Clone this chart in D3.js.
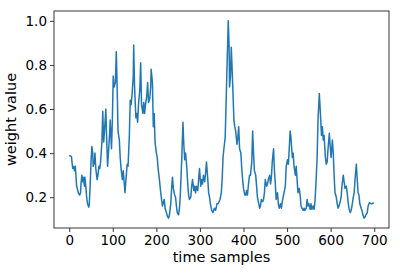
<!DOCTYPE html>
<html>
<meta charset="utf-8">
<script src="https://cdn.jsdelivr.net/npm/d3@7"></script>
<title>weight value</title>
<style>
body { margin: 0; background: #fff; }
text { font-family: "DejaVu Sans", sans-serif; fill: #000; }
</style>
<body>
<script type="text/javascript">

// time sample index and weight value
var samples = [
    0, 5, 8, 10, 12, 14, 17, 21, 24, 26, 27, 29, 31, 33, 35, 36, 38, 40, 42, 45,
    46, 48, 50, 52, 54, 55, 58, 59, 61, 64, 66, 68, 70, 72, 75, 77, 79, 81, 84, 86,
    88, 90, 93, 94, 97, 99, 101, 103, 106, 108, 110, 112, 115, 117, 119, 122, 124, 128, 131, 133,
    135, 138, 140, 142, 144, 147, 148, 150, 153, 155, 157, 159, 162, 164, 166, 169, 171, 173, 175, 178,
    180, 182, 185, 187, 188, 191, 193, 195, 197, 200, 202, 204, 207, 210, 212, 214, 218, 220, 223, 226,
    228, 230, 233, 235, 237, 239, 242, 244, 246, 248, 251, 253, 255, 258, 261, 263, 265, 267, 270, 272,
    274, 276, 279, 281, 283, 286, 288, 290, 292, 295, 297, 299, 302, 304, 306, 308, 311, 313, 315, 317,
    320, 322, 324, 327, 330, 333, 336, 339, 342, 346, 349, 351, 353, 355, 358, 361, 365, 367, 368, 370,
    372, 375, 378, 380, 382, 385, 387, 389, 391, 394, 396, 398, 400, 403, 405, 407, 409, 412, 414, 416,
    419, 421, 423, 425, 428, 430, 432, 434, 437, 439, 441, 444, 446, 448, 450, 453, 455, 457, 460, 462,
    464, 466, 469, 471, 473, 475, 478, 480, 482, 485, 487, 489, 491, 494, 496, 498, 501, 503, 505, 507,
    509, 512, 514, 516, 519, 521, 523, 525, 528, 530, 532, 534, 537, 539, 541, 544, 546, 548, 550, 553,
    555, 557, 560, 562, 564, 566, 569, 571, 574, 576, 579, 581, 583, 585, 588, 590, 592, 594, 597, 599,
    601, 604, 606, 608, 610, 613, 615, 617, 619, 622, 624, 626, 629, 631, 633, 636, 638, 640, 642, 645,
    647, 649, 652, 654, 656, 659, 661, 663, 665, 667, 670, 672, 674, 677, 679, 681, 684, 686, 689, 694,
    699
];
var weights = [
    0.389, 0.385, 0.33, 0.34, 0.32, 0.34, 0.25, 0.22, 0.21, 0.22, 0.26, 0.30, 0.27, 0.29, 0.25, 0.29, 0.25, 0.20, 0.17, 0.155,
    0.17, 0.25, 0.36, 0.43, 0.40, 0.34, 0.36, 0.40, 0.33, 0.28, 0.30, 0.34, 0.33, 0.36, 0.45, 0.59, 0.45, 0.50, 0.60, 0.46,
    0.34, 0.40, 0.50, 0.55, 0.42, 0.55, 0.75, 0.70, 0.72, 0.86, 0.70, 0.50, 0.46, 0.38, 0.33, 0.28, 0.32, 0.22, 0.30, 0.35,
    0.34, 0.48, 0.64, 0.62, 0.66, 0.75, 0.89, 0.70, 0.56, 0.58, 0.54, 0.62, 0.69, 0.81, 0.62, 0.58, 0.63, 0.58, 0.62, 0.66,
    0.72, 0.63, 0.65, 0.70, 0.78, 0.72, 0.52, 0.58, 0.45, 0.40, 0.38, 0.33, 0.28, 0.22, 0.19, 0.16, 0.19, 0.15, 0.13, 0.11,
    0.105, 0.12, 0.17, 0.24, 0.29, 0.24, 0.21, 0.20, 0.16, 0.13, 0.12, 0.15, 0.21, 0.36, 0.54, 0.44, 0.37, 0.40, 0.33, 0.26,
    0.21, 0.19, 0.20, 0.25, 0.28, 0.23, 0.25, 0.22, 0.25, 0.23, 0.28, 0.33, 0.25, 0.28, 0.26, 0.30, 0.27, 0.31, 0.36, 0.31,
    0.22, 0.20, 0.17, 0.14, 0.13, 0.15, 0.14, 0.17, 0.17, 0.19, 0.22, 0.28, 0.38, 0.42, 0.47, 0.70, 1.0, 0.88, 0.70, 0.75,
    0.88, 0.72, 0.55, 0.52, 0.50, 0.44, 0.47, 0.52, 0.42, 0.40, 0.33, 0.28, 0.24, 0.21, 0.21, 0.23, 0.21, 0.27, 0.30, 0.30,
    0.36, 0.50, 0.40, 0.32, 0.30, 0.25, 0.20, 0.18, 0.15, 0.16, 0.19, 0.18, 0.19, 0.22, 0.28, 0.25, 0.26, 0.28, 0.30, 0.26,
    0.29, 0.36, 0.42, 0.32, 0.26, 0.19, 0.22, 0.17, 0.15, 0.17, 0.15, 0.18, 0.20, 0.23, 0.25, 0.34, 0.37, 0.35, 0.42, 0.50,
    0.47, 0.38, 0.40, 0.34, 0.30, 0.34, 0.28, 0.22, 0.24, 0.21, 0.16, 0.15, 0.14, 0.15, 0.14, 0.15, 0.19, 0.16, 0.17, 0.145,
    0.17, 0.145, 0.16, 0.145, 0.18, 0.25, 0.38, 0.55, 0.67, 0.60, 0.48, 0.52, 0.46, 0.48, 0.38, 0.35, 0.36, 0.42, 0.49, 0.43,
    0.38, 0.46, 0.40, 0.30, 0.22, 0.20, 0.17, 0.15, 0.16, 0.18, 0.20, 0.25, 0.30, 0.27, 0.24, 0.25, 0.22, 0.18, 0.15, 0.13,
    0.14, 0.16, 0.20, 0.22, 0.28, 0.35, 0.28, 0.22, 0.21, 0.17, 0.15, 0.14, 0.12, 0.105, 0.11, 0.12, 0.13, 0.16, 0.175, 0.17,
    0.175
];
var xTicks = [0, 100, 200, 300, 400, 500, 600, 700];
var yTicks = [0.2, 0.4, 0.6, 0.8, 1.0];

var size = { width : 400, height : 274 };
var margin = { top : 11, right : 11, bottom : 46, left : 54 };
var w = size.width - margin.left - margin.right;
var h = size.height - margin.top - margin.bottom;

var data = samples.map(function(s, i){ return { t : s, v : weights[i] }; });

// matplotlib style 5% padding around data range
var xExt = d3.extent(samples), yExt = d3.extent(weights);
var xPad = (xExt[1] - xExt[0]) * 0.05, yPad = (yExt[1] - yExt[0]) * 0.05;

var xScale = d3.scaleLinear()
    .domain([xExt[0] - xPad, xExt[1] + xPad])
    .range([0, w]);
var yScale = d3.scaleLinear()
    .domain([yExt[0] - yPad, yExt[1] + yPad])
    .range([h, 0]);

var line = d3.line()
    .x(function(d) { return xScale(d.t); })
    .y(function(d) { return yScale(d.v); });

var svg = d3.select("body")
    .append("svg")
    .attr("width", size.width)
    .attr("height", size.height)
    .append("g")
    .attr("transform", "translate(" + margin.left + "," + margin.top + ")");

svg.append("path")
    .datum(data)
    .attr("d", line)
    .style("fill", "none")
    .style("stroke", "#1f77b4")
    .style("stroke-width", 1.5)
    .style("stroke-linejoin", "round");

var xAxis = svg.append("g")
    .attr("transform", "translate(0," + h + ")")
    .call(d3.axisBottom(xScale).tickValues(xTicks).tickSize(4).tickPadding(3)
        .tickFormat(d3.format("d")));
var yAxis = svg.append("g")
    .call(d3.axisLeft(yScale).tickValues(yTicks).tickSize(4).tickPadding(3)
        .tickFormat(d3.format(".1f")));

[xAxis, yAxis].forEach(function(a){
    a.select(".domain").remove();
    a.selectAll("line").style("stroke", "#222").style("stroke-width", 0.9);
    a.selectAll("text")
        .style("font-family", "'DejaVu Sans', sans-serif")
        .style("font-size", "13.5px")
        .style("fill", "#000");
});

// frame
svg.append("rect")
    .attr("width", w)
    .attr("height", h)
    .style("fill", "none")
    .style("stroke", "#222")
    .style("stroke-width", 0.9);

svg.append("text")
    .attr("x", w / 2)
    .attr("y", h + 34)
    .attr("text-anchor", "middle")
    .style("font-size", "14.5px")
    .text("time samples");

svg.append("text")
    .attr("transform", "translate(" + (-38) + "," + (h / 2) + ") rotate(-90)")
    .attr("text-anchor", "middle")
    .style("font-size", "14.5px")
    .text("weight value");

</script>
</body>
</html>
